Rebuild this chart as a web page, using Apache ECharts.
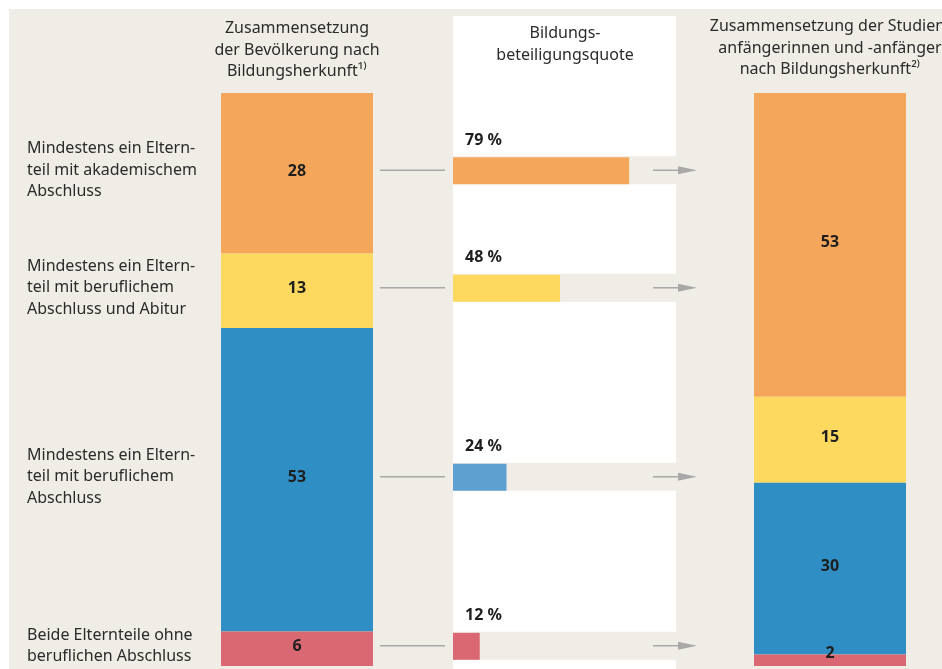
<!DOCTYPE html>
<html><head><meta charset="utf-8">
<script src="https://cdn.jsdelivr.net/npm/echarts@6/dist/echarts.min.js"></script>
<style>html,body{margin:0;padding:0;background:#fff}#c{width:942px;height:669px}</style>
</head><body><div id="c"></div>
<script>
const categories = [
  'Mindestens ein Eltern-\nteil mit akademischem\nAbschluss',
  'Mindestens ein Eltern-\nteil mit beruflichem\nAbschluss und Abitur',
  'Mindestens ein Eltern-\nteil mit beruflichem\nAbschluss',
  'Beide Elternteile ohne\nberuflichen Abschluss'
];
const population = [28, 13, 53, 6];   // Zusammensetzung der Bevölkerung (%)
const quota = [79, 48, 24, 12];       // Bildungsbeteiligungsquote (%)
const entrants = [53, 15, 30, 2];     // Zusammensetzung der Studienanfänger (%)
const titleLeft = 'Zusammensetzung\nder Bevölkerung nach\nBildungsherkunft¹⁾';
const titleMid = 'Bildungs-\nbeteiligungsquote';
const titleRight = 'Zusammensetzung der Studien-\nanfängerinnen und -anfänger\nnach Bildungsherkunft²⁾';

const segColors = ['#f4a65a', '#fdd95f', '#2f8fc4', '#d96873'];
const midColors = ['#f4a65a', '#fdd95f', '#5ea0d0', '#d96873'];
const BG = '#f0ede6';
const FONT = '"Noto Sans", sans-serif';
const TXT = '#2b2b2b';

// midpoints of population segments (row positions)
const rowMid = [];
let acc = 0;
population.forEach(v => { rowMid.push(acc + v / 2); acc += v; });

const chart = echarts.init(document.getElementById('c'), null, {renderer: 'canvas'});

function stackSeries(values, axisIdx, stackName) {
  return values.map((v, i) => ({
    type: 'bar', xAxisIndex: axisIdx, yAxisIndex: axisIdx, stack: stackName,
    barWidth: '100%', silent: true,
    data: [{value: v, label: {offset: v < 5 ? [0, -7] : [0, -2]}}],
    itemStyle: {color: segColors[i]},
    label: {show: true, position: 'inside', color: '#1e1e1e', fontWeight: 'bold', fontSize: 16, fontFamily: FONT}
  }));
}

const option = {
  backgroundColor: BG,
  animation: false,
  grid: [
    {left: 221, width: 152, top: 93, height: 573},
    {left: 754, width: 152, top: 93, height: 573},
    {left: 453, width: 223, top: 93, height: 573}
  ],
  xAxis: [
    {gridIndex: 0, type: 'category', data: ['a'], show: false},
    {gridIndex: 1, type: 'category', data: ['b'], show: false},
    {gridIndex: 2, type: 'value', min: 0, max: 100, show: false}
  ],
  yAxis: [
    {gridIndex: 0, type: 'value', min: 0, max: 100, inverse: true, show: false},
    {gridIndex: 1, type: 'value', min: 0, max: 100, inverse: true, show: false},
    {gridIndex: 2, type: 'value', min: 0, max: 100, inverse: true, show: false}
  ],
  graphic: [
    {type: 'rect', z: -10, shape: {x: 0, y: 0, width: 942, height: 9}, style: {fill: '#fff'}},
    {type: 'rect', z: -10, shape: {x: 0, y: 0, width: 9, height: 669}, style: {fill: '#fff'}},
    {type: 'rect', z: -10, shape: {x: 453, y: 16, width: 223, height: 660}, style: {fill: '#fff'}},
    {type: 'text', x: 297, y: 18, style: {text: titleLeft, font: '16px ' + FONT, fill: TXT, textAlign: 'center', lineHeight: 21.5}},
    {type: 'text', x: 565, y: 23, style: {text: titleMid, font: '16px ' + FONT, fill: TXT, textAlign: 'center', lineHeight: 21.5}},
    {type: 'text', x: 830, y: 16, style: {text: titleRight, font: '16px ' + FONT, fill: TXT, textAlign: 'center', lineHeight: 21.5}}
  ],
  series: [
    ...stackSeries(population, 0, 'pop'),
    ...stackSeries(entrants, 1, 'ent'),
    {
      type: 'custom', xAxisIndex: 2, yAxisIndex: 2, silent: true, clip: false,
      data: quota.map((q, i) => [q, rowMid[i], i]),
      renderItem: function (params, api) {
        const q = api.value(0);
        const i = api.value(2);
        const p0 = api.coord([0, api.value(1)]);
        const p1 = api.coord([q, api.value(1)]);
        const pr = api.coord([100, api.value(1)]);
        const y = p0[1] - 3;
        return {
          type: 'group',
          children: [
            {type: 'rect', shape: {x: p0[0], y: y - 14, width: pr[0] - p0[0], height: 28}, style: {fill: BG}},
            {type: 'rect', shape: {x: p0[0], y: y - 13, width: p1[0] - p0[0], height: 27}, style: {fill: midColors[i]}},
            {type: 'text', style: {text: q + ' %', x: p0[0] + 12, y: y - 30, font: 'bold 16px ' + FONT, fill: '#1e1e1e', textAlign: 'left', textVerticalAlign: 'middle'}},
            {type: 'line', shape: {x1: p0[0] - 73, y1: y, x2: p0[0] - 8, y2: y}, style: {stroke: '#a8a8a8', lineWidth: 1.5}},
            {type: 'line', shape: {x1: pr[0] - 23, y1: y, x2: pr[0] + 10, y2: y}, style: {stroke: '#a8a8a8', lineWidth: 1.5}},
            {type: 'polygon', shape: {points: [[pr[0] + 2, y - 4], [pr[0] + 21, y], [pr[0] + 2, y + 4]]}, style: {fill: '#a8a8a8'}},
            {type: 'text', style: {text: categories[i], x: 27, y: y, font: '16px ' + FONT, fill: TXT, textAlign: 'left', textVerticalAlign: 'middle', lineHeight: 21.5}}
          ]
        };
      }
    }
  ]
};
chart.setOption(option);
</script>
</body></html>
